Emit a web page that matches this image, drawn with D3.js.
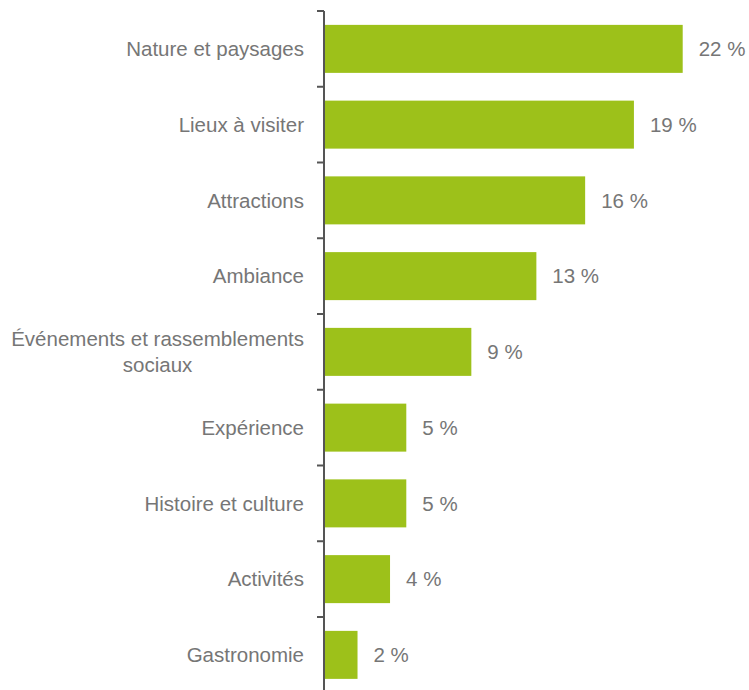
<!DOCTYPE html>
<html>
<head>
<meta charset="utf-8">
<script src="https://cdn.jsdelivr.net/npm/d3@7"></script>
<style>
  html, body { margin: 0; padding: 0; background: #ffffff; }
  svg { display: block; }
  text { font-family: "Liberation Sans", Arial, Helvetica, sans-serif; }
</style>
</head>
<body>
<svg id="chart" width="749" height="690"></svg>
<script>
// Share of mentions by theme (percent)
const categories = [
  "Nature et paysages",
  "Lieux à visiter",
  "Attractions",
  "Ambiance",
  "Événements et rassemblements sociaux",
  "Expérience",
  "Histoire et culture",
  "Activités",
  "Gastronomie"
];
const values = [22, 19, 16, 13, 9, 5, 5, 4, 2];
const valueLabels = ["22 %", "19 %", "16 %", "13 %", "9 %", "5 %", "5 %", "4 %", "2 %"];

const W = 749, H = 690;
const axisX = 324;
const barColor = "#9dc11a";
const textColor = "#767676";
const fontSize = 20.5;

const svg = d3.select("#chart");

const y = d3.scaleBand()
  .domain(categories)
  .range([11, 692.75])
  .paddingInner(0)
  .paddingOuter(0);

const x = d3.scaleLinear()
  .domain([0, 22])
  .range([axisX + 1, 682.7]);

const barH = 48;

// Bars
svg.append("g")
  .selectAll("rect")
  .data(categories)
  .join("rect")
  .attr("x", x(0))
  .attr("y", (d) => y(d) + y.bandwidth() / 2 - barH / 2)
  .attr("width", (d, i) => x(values[i]) - x(0))
  .attr("height", barH)
  .attr("fill", barColor);

// Value labels
svg.append("g")
  .selectAll("text")
  .data(categories)
  .join("text")
  .attr("x", (d, i) => x(values[i]) + 16)
  .attr("y", (d) => y(d) + y.bandwidth() / 2)
  .attr("dy", "0.35em")
  .attr("fill", textColor)
  .attr("font-size", fontSize)
  .text((d, i) => valueLabels[i]);

// Category axis: vertical line with ticks between bands
const axisG = svg.append("g").attr("transform", `translate(${axisX},0)`);
const boundaries = categories.map((d) => y(d));
axisG.append("line")
  .attr("x1", 0).attr("x2", 0)
  .attr("y1", 11).attr("y2", H + 5)
  .attr("stroke", "#555")
  .attr("stroke-width", 2);
axisG.selectAll("line.tick")
  .data(boundaries)
  .join("line")
  .attr("class", "tick")
  .attr("x1", -7).attr("x2", 0)
  .attr("y1", (d) => d).attr("y2", (d) => d)
  .attr("stroke", "#555")
  .attr("stroke-width", 2);

// Category labels, wrapped at ~300px and centered as a block right-aligned to the axis
const labelRight = axisX - 20;
const maxLabelWidth = 300;
const lineHeight = 26.5;
const labelsG = svg.append("g")
  .attr("font-size", fontSize)
  .attr("fill", textColor);

categories.forEach((name) => {
  const cy = y(name) + y.bandwidth() / 2;
  const t = labelsG.append("text").attr("text-anchor", "middle");
  const words = name.split(" ");
  const lines = [];
  let line = [];
  const probe = labelsG.append("text").attr("visibility", "hidden");
  words.forEach((w) => {
    line.push(w);
    probe.text(line.join(" "));
    if (probe.node().getComputedTextLength() > maxLabelWidth && line.length > 1) {
      line.pop();
      lines.push(line.join(" "));
      line = [w];
    }
  });
  lines.push(line.join(" "));
  let widest = 0;
  lines.forEach((l) => {
    probe.text(l);
    widest = Math.max(widest, probe.node().getComputedTextLength());
  });
  probe.remove();
  const cx = labelRight - widest / 2;
  const startY = cy - ((lines.length - 1) * lineHeight) / 2;
  lines.forEach((l, i) => {
    t.append("tspan")
      .attr("x", cx)
      .attr("y", startY + i * lineHeight)
      .attr("dy", "0.35em")
      .text(l);
  });
});
</script>
</body>
</html>
